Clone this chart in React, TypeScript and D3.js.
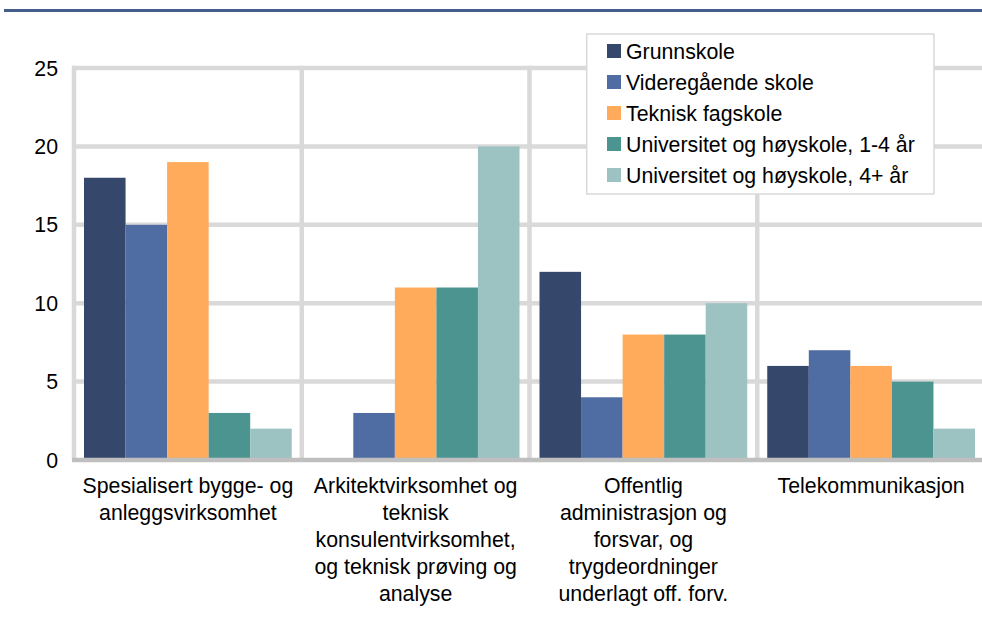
import React from "react";
import * as d3 from "d3";

const categories: string[][] = [
  ["Spesialisert bygge- og", "anleggsvirksomhet"],
  ["Arkitektvirksomhet og", "teknisk", "konsulentvirksomhet,", "og teknisk prøving og", "analyse"],
  ["Offentlig", "administrasjon og", "forsvar, og", "trygdeordninger", "underlagt off. forv."],
  ["Telekommunikasjon"],
];
const seriesNames = [
  "Grunnskole",
  "Videregående skole",
  "Teknisk fagskole",
  "Universitet og høyskole, 1-4 år",
  "Universitet og høyskole, 4+ år",
];
const grunnskole = [18, 0, 12, 6];
const videregaende = [15, 3, 4, 7];
const tekniskFagskole = [19, 11, 8, 6];
const univ14 = [3, 11, 8, 5];
const univ4 = [2, 20, 10, 2];
const yTicks = [0, 5, 10, 15, 20, 25];
const colors = ["#35476B", "#4F6CA3", "#FFAB5B", "#4C9490", "#9CC2C2"];

const seriesValues = [grunnskole, videregaende, tekniskFagskole, univ14, univ4];

const W = 982;
const H = 621;
const FONT = "'Liberation Sans', Arial, Helvetica, sans-serif";
const FS = 21.3;

export default function App() {
  const x0 = d3.scaleBand<number>().domain(categories.map((_, i) => i)).range([74, 985]).padding(0);
  const x1 = d3
    .scaleBand<number>()
    .domain(seriesNames.map((_, i) => i))
    .range([10, x0.bandwidth() - 10])
    .padding(0);
  const y = d3.scaleLinear().domain([0, 25]).range([460, 68]);

  const gridColor = "#D9D9D9";

  return (
    <svg
      width={W}
      height={H}
      style={{ position: "absolute", left: 0, top: 0, background: "#fff" }}
      fontFamily={FONT}
    >
      <rect x={0} y={0} width={W} height={H} fill="#fff" />
      {/* top rule */}
      <line x1={4} x2={982} y1={10.5} y2={10.5} stroke="#435E8D" strokeWidth={3} />

      {/* horizontal grid */}
      {yTicks
        .filter((t) => t > 0)
        .map((t) => (
          <line key={"h" + t} x1={72} x2={W} y1={y(t)} y2={y(t)} stroke={gridColor} strokeWidth={4.5} />
        ))}
      {/* vertical grid */}
      {categories.map((_, i) => (
        <line
          key={"v" + i}
          x1={x0(i)!}
          x2={x0(i)!}
          y1={y(25) - 2.25}
          y2={y(0)}
          stroke={gridColor}
          strokeWidth={4.5}
        />
      ))}

      {/* bars */}
      {seriesValues.map((vals, s) =>
        vals.map((v, c) =>
          v > 0 ? (
            <rect
              key={`b${s}-${c}`}
              x={x0(c)! + x1(s)!}
              y={y(v)}
              width={x1.bandwidth()}
              height={y(0) - y(v)}
              fill={colors[s]}
            />
          ) : null
        )
      )}

      {/* baseline */}
      <line x1={72} x2={W} y1={y(0)} y2={y(0)} stroke="#BFBFBF" strokeWidth={4.5} />

      {/* y tick labels */}
      {yTicks.map((t) => (
        <text key={"t" + t} x={58} y={y(t)} dy="0.36em" textAnchor="end" fontSize={FS} fill="#000">
          {t}
        </text>
      ))}

      {/* x labels */}
      {categories.map((lines, i) => (
        <text
          key={"c" + i}
          x={x0(i)! + x0.bandwidth() / 2}
          y={492.5}
          textAnchor="middle"
          fontSize={FS}
          fill="#000"
        >
          {lines.map((ln, j) => (
            <tspan key={j} x={x0(i)! + x0.bandwidth() / 2} y={492.5 + j * 27}>
              {ln}
            </tspan>
          ))}
        </text>
      ))}

      {/* legend */}
      <rect x={586.7} y={34} width={347.3} height={160} fill="#fff" stroke={gridColor} strokeWidth={1.5} />
      {seriesNames.map((name, i) => (
        <g key={"l" + i} transform={`translate(0, ${51 + i * 31})`}>
          <rect x={607} y={-7} width={14} height={14} fill={colors[i]} />
          <text x={626} y={0} dy="0.36em" fontSize={FS} fill="#000">
            {name}
          </text>
        </g>
      ))}
    </svg>
  );
}
